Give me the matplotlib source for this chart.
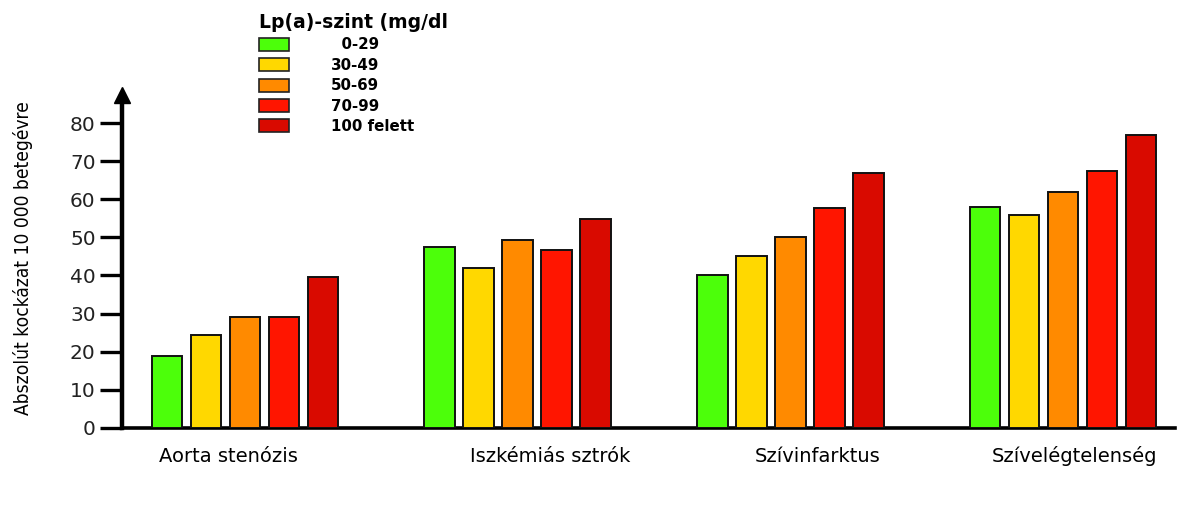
import numpy as np
import matplotlib
matplotlib.use("Agg")
import matplotlib.pyplot as plt
from matplotlib.patches import Patch

# Adatok
categories = ["Aorta stenózis", "Iszkémiás sztrók", "Szívinfarktus", "Szívelégtelenség"]
levels = ["  0-29", "30-49", "50-69", "70-99", "100 felett"]
risk_0_29 = [18.8, 47.4, 40.0, 58.0]
risk_30_49 = [24.4, 41.9, 45.0, 56.0]
risk_50_69 = [29.0, 49.2, 50.0, 62.0]
risk_70_99 = [29.0, 46.7, 57.8, 67.5]
risk_100 = [39.7, 54.7, 67.0, 77.0]
yticks = [0, 10, 20, 30, 40, 50, 60, 70, 80]

series = [risk_0_29, risk_30_49, risk_50_69, risk_70_99, risk_100]
colors = ["#4cff0a", "#ffd800", "#ff8a00", "#ff1500", "#d90a00"]

fig = plt.figure(figsize=(12, 5.16), dpi=100)
ax = fig.add_axes([0.1017, 0.171, 0.8775, 0.645])

x = np.arange(len(categories))
step = 0.143
for j, (vals, col) in enumerate(zip(series, colors)):
    ax.bar(x + (j - 2) * step, vals, width=0.112, color=col,
           edgecolor="#111111", linewidth=1.4, zorder=3)

ax.set_xlim(-0.45, 3.41)
ax.set_ylim(0, 87.4)

# tengelyek
for s in ["top", "right"]:
    ax.spines[s].set_visible(False)
ax.spines["left"].set_linewidth(3.2)
ax.spines["bottom"].set_linewidth(2.6)
ax.plot(0, 1, marker="^", color="black", markersize=11, transform=ax.transAxes,
        clip_on=False, zorder=5)

ax.set_yticks(yticks)
ax.set_yticklabels([str(t) for t in yticks], fontsize=14.5, color="#222222")
ax.tick_params(axis="y", length=16, width=2.4, pad=3)
ax.set_xticks([])

# kategória feliratok
label_shift = [-0.06, 0.12, 0.10, 0.04]
for xi, name, sh in zip(x, categories, label_shift):
    ax.text(xi + sh, -7.5, name, ha="center", va="center", fontsize=14,
            transform=ax.transData)

fig.text(0.019, 0.5, "Abszolút kockázat 10 000 betegévre", rotation=90,
         ha="center", va="center", fontsize=13.8, fontstretch="condensed",
         family=["DejaVu Sans"])

handles = [Patch(facecolor=c, edgecolor="#222222", linewidth=1.2) for c in colors]
leg = fig.legend(handles, levels, loc="upper left", bbox_to_anchor=(0.207, 0.995),
                 frameon=False, prop={"weight": "bold", "size": 10.8},
                 title="Lp(a)-szint (mg/dl",
                 title_fontproperties={"weight": "bold", "size": 13.5},
                 handlelength=2.0, handleheight=0.95, handletextpad=2.8,
                 labelspacing=0.36, borderpad=0.2)
leg._legend_box.align = "left"

fig.savefig("out.png", dpi=100)
